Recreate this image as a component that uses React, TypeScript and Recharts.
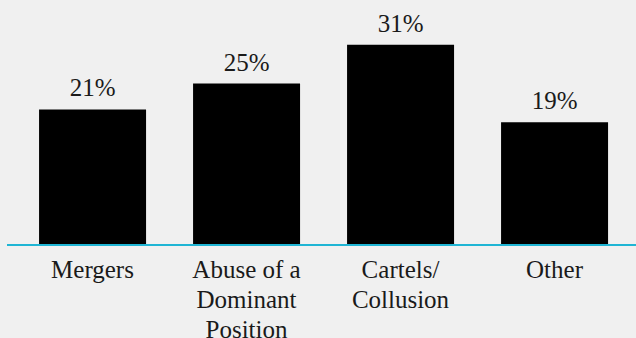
import { BarChart, Bar, XAxis, YAxis, LabelList } from 'recharts';

const categories = ['Mergers', 'Abuse of a Dominant Position', 'Cartels/ Collusion', 'Other'];
const tickLines = [['Mergers'], ['Abuse of a', 'Dominant', 'Position'], ['Cartels/', 'Collusion'], ['Other']];
const shares = [21, 25, 31, 19];

const data = categories.map((name, i) => ({ name, value: shares[i] }));

const FONT = 'Liberation Serif, Times New Roman, Noto Serif, DejaVu Serif, serif';

function MultiLineTick({ x, y, index }: any) {
  const lines = tickLines[index] || [];
  return (
    <text x={x} y={y + 33} textAnchor="middle" fontFamily={FONT} fontSize={25} fill="#1a1a1a">
      {lines.map((line, i) => (
        <tspan key={i} x={x} dy={i === 0 ? 0 : 30} fontFamily={FONT}>
          {line}
        </tspan>
      ))}
    </text>
  );
}

export default function App() {
  return (
    <div
      className="ser"
      style={{
        position: 'absolute',
        left: 0,
        top: 0,
        width: 636,
        height: 338,
        background: '#f0f0f0',
        fontFamily: FONT,
      }}
    >
      <style>{`.ser, .ser svg, .ser text, .ser tspan { font-family: ${FONT} !important; }`}</style>
      <BarChart
        width={636}
        height={338}
        data={data}
        margin={{ top: 19, right: 0, bottom: 0, left: 7 }}
        barCategoryGap="15.3%"
        style={{ fontFamily: FONT }}
      >
        <XAxis
          dataKey="name"
          height={93}
          padding={{ left: 8.5, right: 4.5 }}
          axisLine={{ stroke: '#1fb5d4', strokeWidth: 2 }}
          tickLine={false}
          tickSize={0}
          tickMargin={0}
          interval={0}
          tick={<MultiLineTick />}
        />
        <YAxis hide domain={[0, 35]} />
        <Bar dataKey="value" fill="#000000" isAnimationActive={false}>
          <LabelList
            dataKey="value"
            position="top"
            offset={13}
            formatter={(v: any) => `${v}%`}
            fontFamily={FONT}
            fontSize={25}
            fill="#1a1a1a"
          />
        </Bar>
      </BarChart>
    </div>
  );
}
